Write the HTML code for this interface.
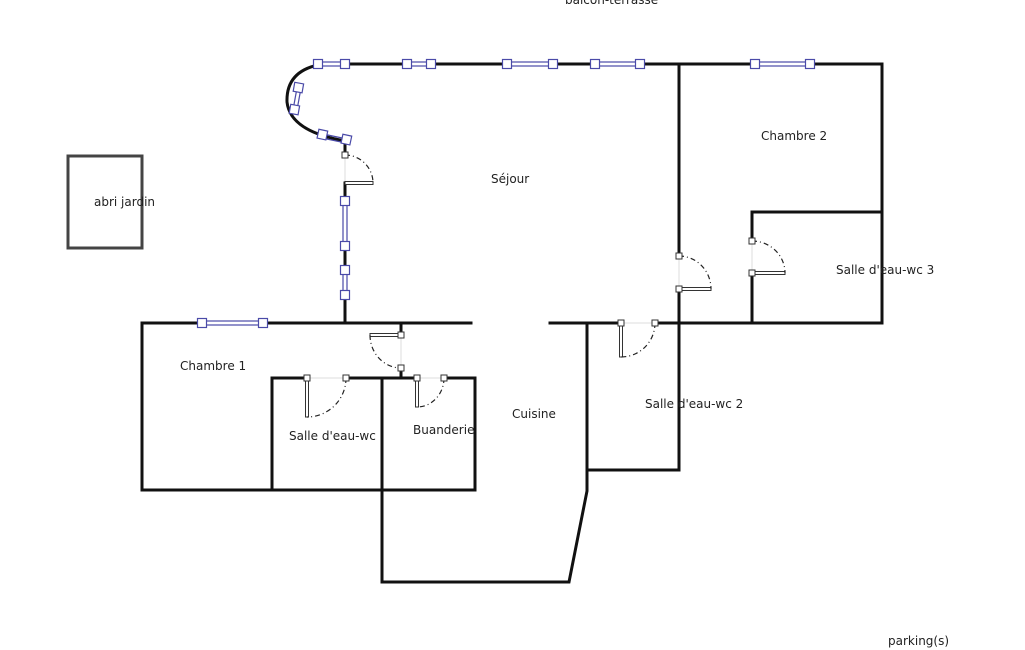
<!DOCTYPE html>
<html><head><meta charset="utf-8"><style>
html,body{margin:0;padding:0;background:#fff;width:1025px;height:650px;overflow:hidden}
text{font-family:"DejaVu Sans","Liberation Sans",sans-serif;font-size:12px;fill:#222}
</style></head><body>
<svg width="1025" height="650" viewBox="0 0 1025 650" xmlns="http://www.w3.org/2000/svg">
<g fill="none" stroke="#111" stroke-width="3" stroke-linecap="square">
<!-- top wall -->
<path d="M318,65 Q286,72 287,102 Q290,130 340,140"/>
<line x1="318" y1="64" x2="882" y2="64"/>
<line x1="882" y1="64" x2="882" y2="323"/>
<line x1="679" y1="64" x2="679" y2="256"/>
<line x1="679" y1="289" x2="679" y2="470"/>
<polyline points="752,241 752,212 882,212"/>
<line x1="752" y1="273" x2="752" y2="323"/>
<line x1="345" y1="140" x2="345" y2="155"/>
<line x1="345" y1="183" x2="345" y2="323"/>
<line x1="142" y1="323" x2="471" y2="323"/>
<line x1="550" y1="323" x2="621" y2="323"/>
<line x1="655" y1="323" x2="882" y2="323"/>
<polyline points="142,323 142,490 475,490 475,378 444,378"/>
<line x1="401" y1="323" x2="401" y2="335"/>
<line x1="401" y1="368" x2="401" y2="378"/>
<line x1="272" y1="490" x2="272" y2="378"/>
<line x1="272" y1="378" x2="307" y2="378"/>
<line x1="346" y1="378" x2="417" y2="378"/>
<polyline points="382,378 382,582 569,582 587,491 587,323"/>
<line x1="587" y1="470" x2="679" y2="470"/>
</g>
<rect x="68" y="156" width="74" height="92" fill="none" stroke="#444" stroke-width="3"/>
<!-- door openings (thin grey) -->
<g stroke="#ddd" stroke-width="1">
<line x1="345" y1="155" x2="345" y2="183"/><line x1="679" y1="256" x2="679" y2="289"/>
<line x1="752" y1="241" x2="752" y2="273"/><line x1="621" y1="323" x2="655" y2="323"/>
<line x1="401" y1="335" x2="401" y2="368"/><line x1="307" y1="378" x2="346" y2="378"/>
<line x1="417" y1="378" x2="444" y2="378"/>
</g>
<!-- door leaves -->
<g fill="#fff" stroke="#333" stroke-width="1">
<rect x="345" y="181.5" width="28" height="3"/>
<rect x="679" y="287.5" width="32" height="3"/>
<rect x="752" y="271.5" width="33" height="3"/>
<rect x="619.5" y="323" width="3" height="34"/>
<rect x="370" y="333.5" width="31" height="3"/>
<rect x="305.5" y="378" width="3" height="39"/>
<rect x="415.5" y="378" width="3" height="29"/>
</g>
<g fill="none" stroke="#222" stroke-width="1.2" stroke-dasharray="5,3,1,3">
<path d="M345,155 A28,28 0 0 1 373,183"/>
<path d="M679,256 A32,33 0 0 1 711,289"/>
<path d="M752,241 A33,32 0 0 1 785,273"/>
<path d="M655,323 A34,34 0 0 1 621,357"/>
<path d="M370,335 A31,33 0 0 0 401,368"/>
<path d="M346,378 A39,39 0 0 1 307,417"/>
<path d="M444,378 A27,29 0 0 1 417,407"/>
</g>
<g fill="#fff" stroke="#333" stroke-width="1">
<rect x="342" y="152" width="6" height="6"/><rect x="676" y="253" width="6" height="6"/><rect x="676" y="286" width="6" height="6"/>
<rect x="749" y="238" width="6" height="6"/><rect x="749" y="270" width="6" height="6"/>
<rect x="618" y="320" width="6" height="6"/><rect x="652" y="320" width="6" height="6"/>
<rect x="398" y="332" width="6" height="6"/><rect x="398" y="365" width="6" height="6"/>
<rect x="304" y="375" width="6" height="6"/><rect x="343" y="375" width="6" height="6"/>
<rect x="414" y="375" width="6" height="6"/><rect x="441" y="375" width="6" height="6"/>
</g>
<!-- windows -->
<g stroke="#4a4aa8" stroke-width="1.2" fill="#fff">
<rect x="318" y="62" width="27" height="4"/><rect x="407" y="62" width="24" height="4"/>
<rect x="507" y="62" width="46" height="4"/><rect x="595" y="62" width="45" height="4"/>
<rect x="755" y="62" width="55" height="4"/><rect x="202" y="321" width="61" height="4"/>
<rect x="343" y="201" width="4" height="45"/><rect x="343" y="270" width="4" height="25"/>
<line x1="297" y1="88" x2="293" y2="110"/><line x1="301" y1="88" x2="297" y2="110"/>
<line x1="323" y1="134" x2="347" y2="139"/><line x1="322" y1="138" x2="346" y2="143"/>
<g>
<rect x="313.5" y="59.5" width="9" height="9"/><rect x="340.5" y="59.5" width="9" height="9"/>
<rect x="402.5" y="59.5" width="9" height="9"/><rect x="426.5" y="59.5" width="9" height="9"/>
<rect x="502.5" y="59.5" width="9" height="9"/><rect x="548.5" y="59.5" width="9" height="9"/>
<rect x="590.5" y="59.5" width="9" height="9"/><rect x="635.5" y="59.5" width="9" height="9"/>
<rect x="750.5" y="59.5" width="9" height="9"/><rect x="805.5" y="59.5" width="9" height="9"/>
<rect x="197.5" y="318.5" width="9" height="9"/><rect x="258.5" y="318.5" width="9" height="9"/>
<rect x="340.5" y="196.5" width="9" height="9"/><rect x="340.5" y="241.5" width="9" height="9"/>
<rect x="340.5" y="265.5" width="9" height="9"/><rect x="340.5" y="290.5" width="9" height="9"/>
<rect x="294" y="83" width="9" height="9" transform="rotate(10 298 87)"/>
<rect x="290" y="105" width="9" height="9" transform="rotate(10 294 109)"/>
<rect x="318" y="130" width="9" height="9" transform="rotate(12 322 134)"/>
<rect x="342" y="135" width="9" height="9" transform="rotate(12 346 139)"/>
</g>
</g>
<!-- labels -->
<text x="565" y="4">balcon-terrasse</text>
<text x="94" y="206">abri jardin</text>
<text x="491" y="183">Séjour</text>
<text x="761" y="140">Chambre 2</text>
<text x="836" y="274">Salle d'eau-wc 3</text>
<text x="180" y="370">Chambre 1</text>
<text x="289" y="440">Salle d'eau-wc</text>
<text x="413" y="434">Buanderie</text>
<text x="512" y="418">Cuisine</text>
<text x="645" y="408">Salle d'eau-wc 2</text>
<text x="888" y="645">parking(s)</text>
</svg>
</body></html>
